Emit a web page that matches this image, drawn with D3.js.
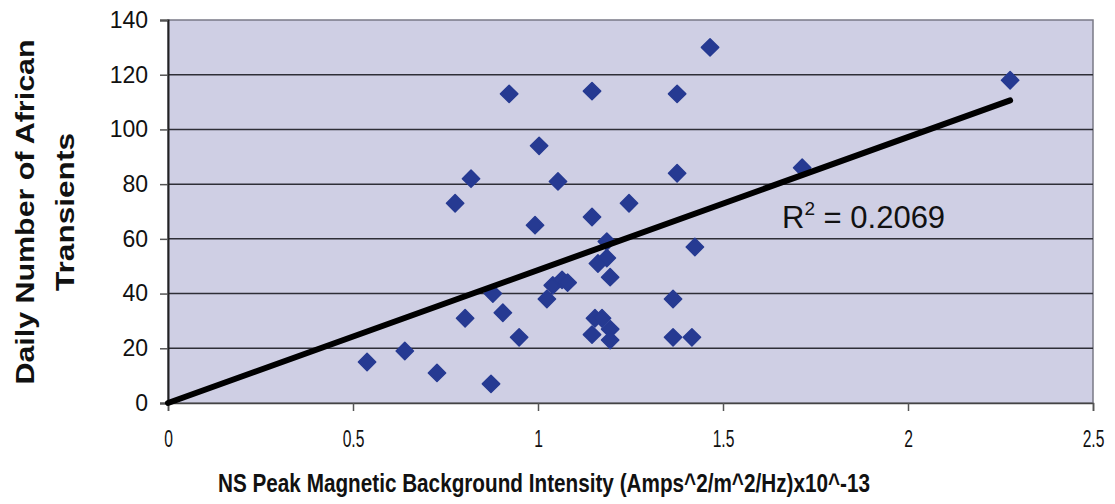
<!DOCTYPE html>
<html>
<head>
<meta charset="utf-8">
<script src="https://cdn.jsdelivr.net/npm/d3@7"></script>
<style>
  html, body { margin: 0; padding: 0; background: #fff; }
  svg { display: block; font-family: "Liberation Sans", Arial, sans-serif; }
</style>
</head>
<body>
<div id="chart"></div>
<script>
// data
var xValues = [0.538, 0.640, 0.727, 0.776, 0.803, 0.819, 0.873, 0.878, 0.905, 0.922, 0.949,
               0.992, 1.003, 1.024, 1.040, 1.054, 1.065, 1.080, 1.146, 1.146, 1.146, 1.154,
               1.162, 1.173, 1.186, 1.186, 1.195, 1.195, 1.195, 1.246, 1.365, 1.365, 1.376,
               1.376, 1.416, 1.424, 1.465, 1.714, 2.276];
var yValues = [15, 19, 11, 73, 31, 82, 7, 40, 33, 113, 24,
               65, 94, 38, 43, 81, 45, 44, 114, 68, 25, 31,
               51, 31, 59, 53, 46, 27, 23, 73, 38, 24, 113,
               84, 24, 57, 130, 86, 118];
var xTicks = [0, 0.5, 1, 1.5, 2, 2.5];
var yTicks = [0, 20, 40, 60, 80, 100, 120, 140];
var trendSlope = 48.6;      // trend line forced through origin
var trendIntercept = 0;
var rSquared = "0.2069";

var W = 1115, H = 504;
var m = {left: 168, top: 20, right: 22, bottom: 101};

var svg = d3.select("#chart").append("svg").attr("width", W).attr("height", H);

var x = d3.scaleLinear().domain([0, 2.5]).range([m.left, W - m.right]);
var y = d3.scaleLinear().domain([0, 140]).range([H - m.bottom, m.top]);

// plot background
svg.append("rect")
    .attr("x", x(0)).attr("y", y(140))
    .attr("width", x(2.5) - x(0)).attr("height", y(0) - y(140))
    .attr("fill", "#cfcfe4")
    .attr("stroke", "#7a7a86").attr("stroke-width", 1.5);

// gridlines
svg.append("g").selectAll("line").data(yTicks.slice(1, -1)).join("line")
    .attr("x1", x(0)).attr("x2", x(2.5))
    .attr("y1", function(d){ return y(d); }).attr("y2", function(d){ return y(d); })
    .attr("stroke", "#2e2e36").attr("stroke-width", 1.5);

// axes
var yAxis = svg.append("g").attr("transform", "translate(" + x(0) + ",0)")
    .call(d3.axisLeft(y).tickValues(yTicks).tickSize(8).tickPadding(12));
var xAxis = svg.append("g").attr("transform", "translate(0," + y(0) + ")")
    .call(d3.axisBottom(x).tickValues(xTicks).tickSize(8).tickPadding(20)
          .tickFormat(d3.format("")));

yAxis.select(".domain").attr("stroke", "#222").attr("stroke-width", 2);
xAxis.select(".domain").attr("stroke", "#444").attr("stroke-width", 1.5);
yAxis.selectAll(".tick line").attr("stroke", "#555").attr("stroke-width", 1.5);
xAxis.selectAll(".tick line").attr("stroke", "#555").attr("stroke-width", 1.5);
yAxis.selectAll("text").attr("font-size", 23).attr("fill", "#111")
    .attr("font-family", "'Liberation Sans', Arial, sans-serif");
xAxis.selectAll("text").attr("font-size", 23).attr("fill", "#111")
    .attr("font-family", "'Liberation Sans', Arial, sans-serif")
    .attr("transform", "scale(0.68,1)");

// points
svg.append("g").selectAll("path").data(xValues).join("path")
    .attr("d", d3.symbol(d3.symbolSquare, 150))
    .attr("transform", function(d, i){
        return "translate(" + x(d) + "," + y(yValues[i]) + ") rotate(45)";
    })
    .attr("fill", "#263a92")
    .attr("stroke", "#263a92").attr("stroke-width", 1.5).attr("stroke-linejoin", "round");

// trend line
var xMax = d3.max(xValues);
svg.append("line")
    .attr("x1", x(0)).attr("y1", y(trendIntercept))
    .attr("x2", x(xMax)).attr("y2", y(trendIntercept + trendSlope * xMax))
    .attr("stroke", "#000").attr("stroke-width", 6).attr("stroke-linecap", "round");

// R^2 label
var rt = svg.append("text").attr("x", 782).attr("y", 228)
    .attr("font-size", 31).attr("fill", "#111");
rt.append("tspan").text("R");
rt.append("tspan").attr("font-size", 19).attr("dy", -13).text("2");
rt.append("tspan").attr("dy", 13).text(" = " + rSquared);

// axis titles
svg.append("text")
    .attr("x", 544).attr("y", 492)
    .attr("text-anchor", "middle")
    .attr("font-size", 25).attr("font-weight", "bold").attr("fill", "#111")
    .attr("textLength", 652).attr("lengthAdjust", "spacingAndGlyphs")
    .text("NS Peak Magnetic Background Intensity (Amps^2/m^2/Hz)x10^-13");

var yt = svg.append("g").attr("transform", "translate(0,212) rotate(-90)");
yt.append("text").attr("x", 0).attr("y", 34)
    .attr("text-anchor", "middle")
    .attr("font-size", 25).attr("font-weight", "bold").attr("fill", "#111")
    .attr("textLength", 345).attr("lengthAdjust", "spacingAndGlyphs")
    .text("Daily Number of African");
yt.append("text").attr("x", 0).attr("y", 74)
    .attr("text-anchor", "middle")
    .attr("font-size", 25).attr("font-weight", "bold").attr("fill", "#111")
    .attr("textLength", 158).attr("lengthAdjust", "spacingAndGlyphs")
    .text("Transients");
</script>
</body>
</html>
